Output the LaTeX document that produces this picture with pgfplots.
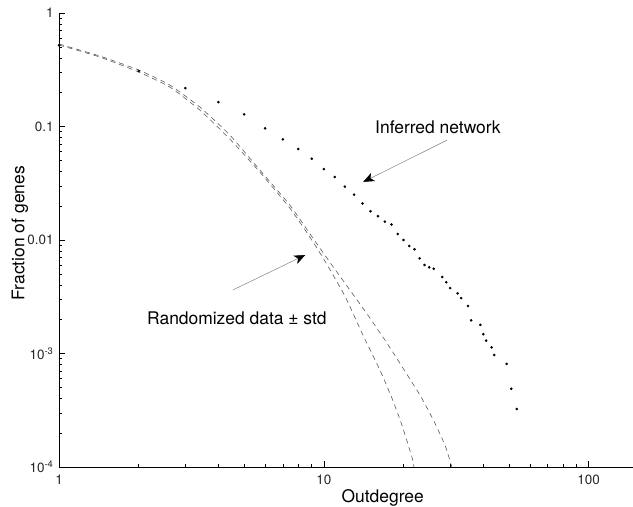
\documentclass[border=0pt]{standalone}
\usepackage{fontspec}
\setmainfont{TeX Gyre Heros}
\usepackage{pgfplots}
\pgfplotsset{compat=1.18}
\usetikzlibrary{arrows.meta}
\begin{document}
\begin{tikzpicture}
\begin{axis}[
  at={(0,0)}, anchor=south west,
  scale only axis, width=574bp, height=454bp,
  xmode=log, ymode=log,
  xmin=1, xmax=147, ymin=1e-4, ymax=1,
  axis lines*=left, axis line style={-, line width=0.8bp},
  tick align=inside,
  major tick length=6bp, minor tick length=3.5bp,
  tick style={line width=0.6bp, black},
  xtick={1,10,100}, xticklabels={1,10,100},
  ytick={1e-4,1e-3,1e-2,1e-1,1},
  yticklabels={10\textsuperscript{-4},10\textsuperscript{-3},0.01,0.1,1},
  /pgf/number format/assume math mode=true,
  tick label style={font=\fontsize{13.5}{15}\selectfont, text=black!85},
  xticklabel style={yshift=-4bp},
  yticklabel style={xshift=-2bp},
  clip=false,
]
% randomized +- std (two dashed curves)
\addplot[gray!70!black, line width=0.6bp, dash pattern=on 5bp off 4bp, smooth, tension=0.3] coordinates {
(1.0,0.5224) (1.425,0.4096) (2.0,0.3020) (2.62,0.2229) (3.401,0.1397) (4.415,0.0776)
(5.731,0.03972) (7.437,0.01914) (8.853,0.01063) (10.09,0.006531) (12.01,0.003211)
(14.04,0.001455) (16.28,0.0007155) (18.07,0.0004055) (19.71,0.0002344)
(21.50,0.0001225) (21.88,0.0001)
};
\addplot[gray!70!black, line width=0.6bp, dash pattern=on 5bp off 4bp, smooth, tension=0.3] coordinates {
(1.0,0.5331) (1.425,0.418) (2.0,0.3146) (2.62,0.2321) (3.401,0.1485) (4.415,0.08414)
(5.731,0.04136) (7.437,0.02034) (9.088,0.01041) (10.72,0.006022) (12.54,0.003627)
(14.66,0.002184) (17.30,0.001238) (19.89,0.0007451) (23.05,0.0004309)
(25.81,0.0002648) (28.65,0.0001562) (30.45,0.0001)
};
% inferred network
\addplot[only marks, mark=*, mark size=1.1bp, black] coordinates {
(1,0.52) (2,0.308) (3,0.218) (4,0.164) (5,0.128) (6,0.0964) (7,0.0771) (8,0.0634)
(9,0.052) (10,0.0422) (11,0.0359) (12,0.0295) (13,0.0251) (14,0.0210) (15,0.0179)
(16,0.0162) (17,0.0145) (18,0.0137) (19,0.0113) (20,0.0100) (21,0.00885) (22,0.00828)
(23,0.0069) (24,0.00603) (25,0.00574) (26,0.00558) (28,0.00472) (29,0.00424)
(30,0.00377) (32,0.00339) (33,0.00308) (35,0.00262) (36,0.00196) (39,0.00179)
(40,0.00148) (41,0.0013) (43,0.00113) (44,0.00097) (49,0.00081) (51,0.00049)
(53.5,0.000324)
};
\node[font=\fontsize{17.5}{20}\selectfont] at (rel axis cs:0.660,0.749) {Inferred network};
\draw[gray, line width=0.5bp, -{Stealth[length=11bp,width=9bp,inset=3bp,color=black]}]
  (rel axis cs:0.676,0.720) -- (rel axis cs:0.530,0.628);
\node[font=\fontsize{17.5}{20}\selectfont] at (rel axis cs:0.310,0.328) {Randomized data ± std};
\draw[gray, line width=0.5bp, -{Stealth[length=11bp,width=9bp,inset=3bp,color=black]}]
  (rel axis cs:0.303,0.390) -- (rel axis cs:0.429,0.467);
\node[font=\fontsize{17.5}{20}\selectfont] at (rel axis cs:0.564,-0.068) {Outdegree};
\node[font=\fontsize{17.5}{20}\selectfont, rotate=90] at (rel axis cs:-0.068,0.515) {Fraction of genes};
\end{axis}
\pgfresetboundingbox
\path[use as bounding box] (-59bp,-40bp) rectangle (574bp,467bp);
\end{tikzpicture}
\end{document}
